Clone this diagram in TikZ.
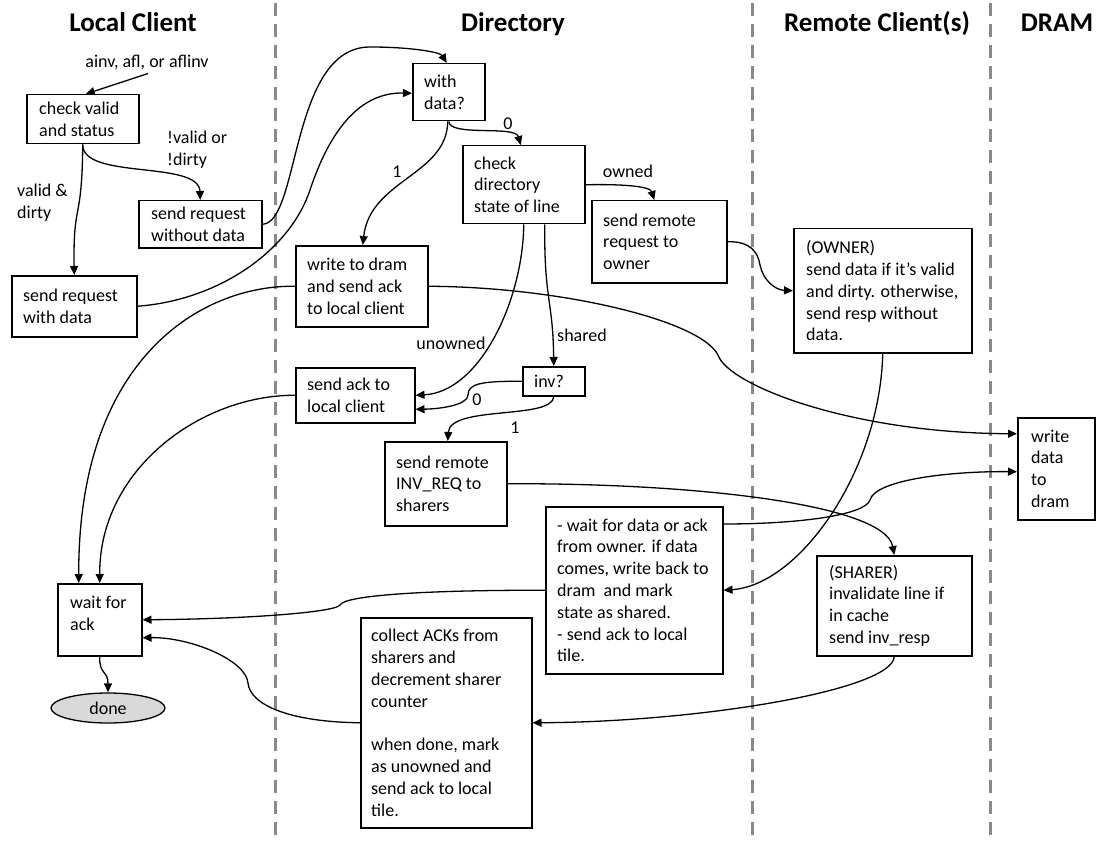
\documentclass[tikz,border=0pt]{standalone}
\usepackage{fontspec}
\setmainfont{Carlito}
\usetikzlibrary{arrows.meta,shapes.geometric,calc}
\definecolor{lanegray}{RGB}{137,137,137}
\begin{document}
\begin{tikzpicture}[x=1pt,y=-1pt,
  box/.style={draw,line width=1.5pt,rectangle,anchor=north west,inner sep=0pt},
  txt/.style={anchor=west,align=left,inner sep=0pt,font=\fontsize{18}{21.8}\selectfont},
  lbl/.style={align=left,inner sep=0pt,font=\fontsize{18}{21.8}\selectfont},
  ttl/.style={anchor=base,inner sep=0pt,font=\fontsize{27}{32}\selectfont\bfseries},
  arr/.style={line width=1.3pt,-{Triangle[length=9pt,width=8pt]}},
  lane/.style={draw=lanegray,line width=3pt,dash pattern=on 13pt off 8pt}]
\useasboundingbox (0,0) rectangle (1107,842);

% swimlane separators
\draw[lane] (275,3) -- (275,842);
\draw[lane] (752,3) -- (752,842);
\draw[lane] (990,3) -- (990,842);

% titles
\node[ttl] (t1) at (133,32) {Local Client};
\node[ttl] (t2) at (513,32) {Directory};
\node[ttl] (t3) at (877,32) {Remote Client(s)};
\node[ttl] (t4) at (1057,32) {DRAM};

% boxes
\node[box,minimum width=112pt,minimum height=49pt] (chk) at (26,94) {};
\node[txt] (chkt) at ($(chk.west)+(13,0)$) {check valid\\and status};
\node[box,minimum width=123pt,minimum height=47pt] (swd) at (138,200) {};
\node[txt] (swdt) at ($(swd.west)+(13,0)$) {send request\\without data};
\node[box,minimum width=125pt,minimum height=61pt] (swi) at (11,275) {};
\node[txt] (swit) at ($(swi.west)+(12,0)$) {send request\\with data};
\node[box,minimum width=72pt,minimum height=57pt] (wd) at (412,63) {};
\node[txt] (wdt) at ($(wd.west)+(12,0)$) {with\\data?};
\node[box,minimum width=122pt,minimum height=78pt] (cd) at (462,145) {};
\node[txt] (cdt) at ($(cd.west)+(12,0)$) {check\\directory\\state of line};
\node[box,minimum width=135pt,minimum height=82pt] (srr) at (591,200) {};
\node[txt] (srrt) at ($(srr.west)+(12,0)$) {send remote\\request to\\owner};
\node[box,minimum width=132pt,minimum height=81pt] (wtd) at (295,245) {};
\node[txt] (wtdt) at ($(wtd.west)+(12,0)$) {write to dram\\and send ack\\to local client};
\node[box,minimum width=119pt,minimum height=55pt] (sak) at (295,367) {};
\node[txt] (sakt) at ($(sak.west)+(12,0)$) {send ack to\\local client};
\node[box,minimum width=62pt,minimum height=29pt] (inv) at (522,366) {};
\node[txt] (invt) at ($(inv.west)+(12,0)$) {inv?};
\node[box,minimum width=122pt,minimum height=84pt] (ireq) at (384,441) {};
\node[txt] (ireqt) at ($(ireq.west)+(12,0)$) {send remote\\INV\_REQ to\\sharers};
\node[box,minimum width=177pt,minimum height=167pt] (wfd) at (545,506) {};
\node[txt] (wfdt) at ($(wfd.west)+(12,0)$) {- wait for data or ack\\from owner. if data\\comes, write back to\\dram\ \ and mark\\state as shared.\\- send ack to local\\tile.};
\node[box,minimum width=171pt,minimum height=210pt] (col) at (360,617) {};
\node[txt] (colt) at ($(col.west)+(11,0)$) {collect ACKs from\\sharers and\\decrement sharer\\counter\\[21.8pt]when done, mark\\as unowned and\\send ack to local\\tile.};
\node[box,minimum width=178pt,minimum height=124pt] (own) at (793,228) {};
\node[txt] (ownt) at ($(own.west)+(13,0)$) {(OWNER)\\send data if it’s valid\\and dirty. otherwise,\\send resp without\\data.};
\node[box,minimum width=155pt,minimum height=100pt] (shr) at (816,555) {};
\node[txt] (shrt) at ($(shr.west)+(13,0)$) {(SHARER)\\invalidate line if\\in cache\\send inv\_resp};
\node[box,minimum width=77pt,minimum height=102pt] (dram) at (1017,417) {};
\node[txt] (dramt) at ($(dram.west)+(14,0)$) {write\\data\\to\\dram};
\node[box,minimum width=84pt,minimum height=72pt] (wfa) at (57,583) {};
\node[txt] (wfat) at ($(wfa.west)+(13,-6)$) {wait for\\ack};
\node[ellipse,draw,fill=gray!30,line width=1.3pt,minimum width=114pt,minimum height=30pt,inner sep=0pt,font=\fontsize{18}{21.8}\selectfont] (done) at (108,708) {done};

% labels
\node[lbl] (lab) at (147,62) {ainv, afl, or aflinv};
\node[lbl,anchor=west] (lv) at (167,150) {!valid or\\!dirty};
\node[lbl,anchor=west] (lvd) at (17,203) {valid \&\\dirty};
\node[lbl] (l0a) at (508,124) {0};
\node[lbl] (l1a) at (397,172) {1};
\node[lbl] (lown) at (628,171) {owned};
\node[lbl] (lun) at (451,343) {unowned};
\node[lbl] (lsh) at (582,335) {shared};
\node[lbl] (l0b) at (477,400) {0};
\node[lbl] (l1b) at (515,428) {1};

% connectors
\draw[arr] ($(lab.south)+(1,4)$) -- ($(chk.north)+(3,0)$);
\draw[arr] (chk.south) .. controls (82,180) and (199,160) .. (swd.north);
\draw[arr] (chk.south) .. controls (82,225) and (73,200) .. (swi.north);
\draw[arr] (swd.east) .. controls (300,223) and (290,47) .. (370,47) .. controls (410,47) and (440,52) .. ($(wd.north)+(-2,0)$);
\draw[arr] (swi.east) .. controls (220,300) and (290,250) .. (310,190) .. controls (330,130) and (360,92) .. ($(wd.west)+(0,1)$);
\draw[arr] (wd.south) .. controls (450,137) and (515,125) .. ($(cd.north)+(-3,0)$);
\draw[arr] ($(wd.south)+(-1,0)$) .. controls (447,175) and (370,180) .. ($(wtd.north)+(1,0)$);
\draw[arr] (cd.east) .. controls (620,184) and (650,186) .. ($(srr.north)+(-5,0)$);
\draw[arr] (cd.south) .. controls (523,300) and (480,392) .. (sak.east);
\draw[arr] ($(cd.south)+(21,0)$) .. controls (544,300) and (553,300) .. (inv.north);
\draw[arr] (inv.west) .. controls (480,381) and (468,384) .. (468,395) .. controls (468,405) and (440,409) .. ($(sak.east)+(0,14)$);
\draw[arr] (inv.south) .. controls (553,420) and (450,405) .. ($(ireq.north)+(2,0)$);
\draw[arr] (wtd.west) .. controls (200,285) and (78,360) .. ($(wfa.north)+(-21,0)$);
\draw[arr] (sak.west) .. controls (200,395) and (99,470) .. (wfa.north);
\draw[arr] (wfd.west) .. controls (430,590) and (345,595) .. (340,605) .. controls (336,612) and (250,619) .. (wfa.east);
\draw[arr] (col.west) .. controls (290,722) and (250,705) .. (248,683) .. controls (246,660) and (190,637) .. ($(wfa.east)+(0,18)$);
\draw[arr] (wtd.east) .. controls (560,287) and (700,320) .. (718,355) .. controls (728,385) and (850,433) .. ($(dram.west)+(0,-35)$);
\draw[arr] ($(wfd.north east)+(0,18)$) .. controls (800,524) and (865,515) .. (870,500) .. controls (875,480) and (950,471) .. ($(dram.west)+(0,3)$);
\draw[arr] (ireq.east) .. controls (700,483) and (885,505) .. (shr.north);
\draw[arr] (own.south) .. controls (880,470) and (800,585) .. (wfd.east);
\draw[arr] (shr.south) .. controls (893,690) and (700,722) .. (col.east);
\draw[arr] (srr.east) .. controls (750,241) and (758,252) .. (760,265) .. controls (763,280) and (775,290) .. (own.west);
\draw[arr] (wfa.south) .. controls (99,675) and (108,670) .. (done.north);
\end{tikzpicture}
\end{document}
